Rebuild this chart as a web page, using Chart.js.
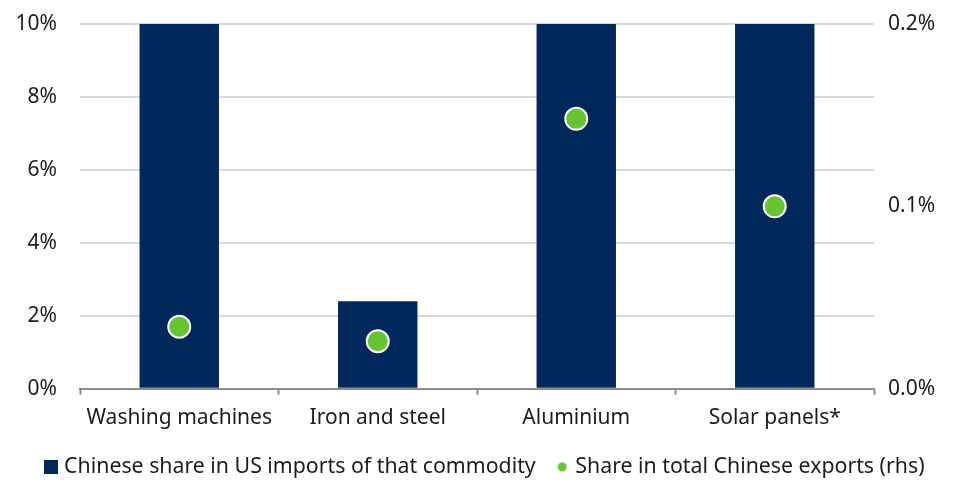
<!DOCTYPE html>
<html>
<head>
<meta charset="utf-8">
<script src="https://cdn.jsdelivr.net/npm/chart.js@4.4.1/dist/chart.umd.min.js"></script>
<style>
  html, body { margin: 0; padding: 0; background: #ffffff; }
  #wrap { width: 959px; height: 480px; position: relative; }
</style>
</head>
<body>
<div id="wrap"><canvas id="chart" width="959" height="480"></canvas></div>
<script>
// Commodity categories on the x axis
const categories = ['Washing machines', 'Iron and steel', 'Aluminium', 'Solar panels*'];

// Chinese share in US imports of that commodity, % (left axis; the tallest bars run past the 10% axis top)
const usImportShare = [17, 2.4, 14, 13];

// Share in total Chinese exports, % (right axis)
const chinaExportShare = [0.034, 0.026, 0.148, 0.100];

// Axis ranges and tick steps
const leftTicks = { min: 0, max: 10, step: 2 };
const rightTicks = { min: 0, max: 0.2, step: 0.1 };

const seriesNames = ['Chinese share in US imports of that commodity', 'Share in total Chinese exports (rhs)'];

const NAVY = '#00285a';
const GREEN = '#66c431';
const TEXT = '#1c1c1c';
const FONT = '"Noto Sans", "Open Sans", sans-serif';
const FS = 21;

// Small legend markers: a navy square and a green dot
function marker(size, draw) {
  const c = document.createElement('canvas');
  c.width = size; c.height = size;
  draw(c.getContext('2d'), size);
  return c;
}
const squareMarker = marker(14, (g, s) => { g.fillStyle = NAVY; g.fillRect(0, 0, s, s); });
const dotMarker = marker(10, (g, s) => {
  g.fillStyle = GREEN; g.beginPath(); g.arc(s / 2, s / 2, 4.5, 0, Math.PI * 2); g.fill();
});

new Chart(document.getElementById('chart'), {
  data: {
    labels: categories,
    datasets: [
      {
        type: 'line',
        label: seriesNames[1],
        data: chinaExportShare,
        yAxisID: 'y1',
        showLine: false,
        pointRadius: 11,
        pointHoverRadius: 11,
        pointBackgroundColor: GREEN,
        pointBorderColor: '#ffffff',
        pointBorderWidth: 2,
        order: 0
      },
      {
        type: 'bar',
        label: seriesNames[0],
        data: usImportShare,
        yAxisID: 'y',
        backgroundColor: NAVY,
        barPercentage: 0.4,
        categoryPercentage: 1.0,
        order: 1
      }
    ]
  },
  options: {
    responsive: false,
    animation: false,
    devicePixelRatio: 1,
    layout: { padding: { top: 24, left: 14, right: 0, bottom: -7.5 } },
    plugins: {
      tooltip: { enabled: false },
      legend: {
        position: 'bottom',
        labels: {
          color: TEXT,
          font: { family: FONT, size: 21.3 },
          usePointStyle: true,
          pointStyleWidth: 5,
          padding: 24,
          generateLabels: () => [
            { text: seriesNames[0], pointStyle: squareMarker, fillStyle: NAVY, strokeStyle: NAVY, lineWidth: 0, fontColor: TEXT, datasetIndex: 1 },
            { text: seriesNames[1], pointStyle: dotMarker, fillStyle: GREEN, strokeStyle: GREEN, lineWidth: 0, fontColor: TEXT, datasetIndex: 0 }
          ]
        }
      }
    },
    scales: {
      x: {
        offset: true,
        grid: {
          display: true,
          offset: true,
          drawOnChartArea: false,
          drawTicks: true,
          tickLength: 6,
          tickWidth: 2,
          tickColor: '#8c8c8c'
        },
        border: { display: true, color: '#8c8c8c', width: 2 },
        ticks: { color: TEXT, font: { family: FONT, size: FS }, padding: 11, maxRotation: 0 },
        afterFit: (s) => { s.height = 43.5; }
      },
      y: {
        position: 'left',
        min: leftTicks.min,
        max: leftTicks.max,
        ticks: {
          stepSize: leftTicks.step,
          color: TEXT,
          font: { family: FONT, size: FS },
          padding: 3,
          callback: (v) => v + '%'
        },
        grid: { color: '#d9d9d9', lineWidth: 2, drawTicks: true, tickLength: 20, tickColor: 'rgba(0,0,0,0)' },
        border: { display: false },
        afterFit: (s) => { s.width = 66; }
      },
      y1: {
        position: 'right',
        min: rightTicks.min,
        max: rightTicks.max,
        ticks: {
          stepSize: rightTicks.step,
          color: TEXT,
          font: { family: FONT, size: FS },
          padding: 3,
          callback: (v) => Number(v).toFixed(1) + '%'
        },
        grid: { display: true, drawOnChartArea: false, drawTicks: true, tickLength: 11, tickColor: 'rgba(0,0,0,0)' },
        border: { display: false },
        afterFit: (s) => { s.width = 85; }
      }
    }
  }
});
</script>
</body>
</html>
